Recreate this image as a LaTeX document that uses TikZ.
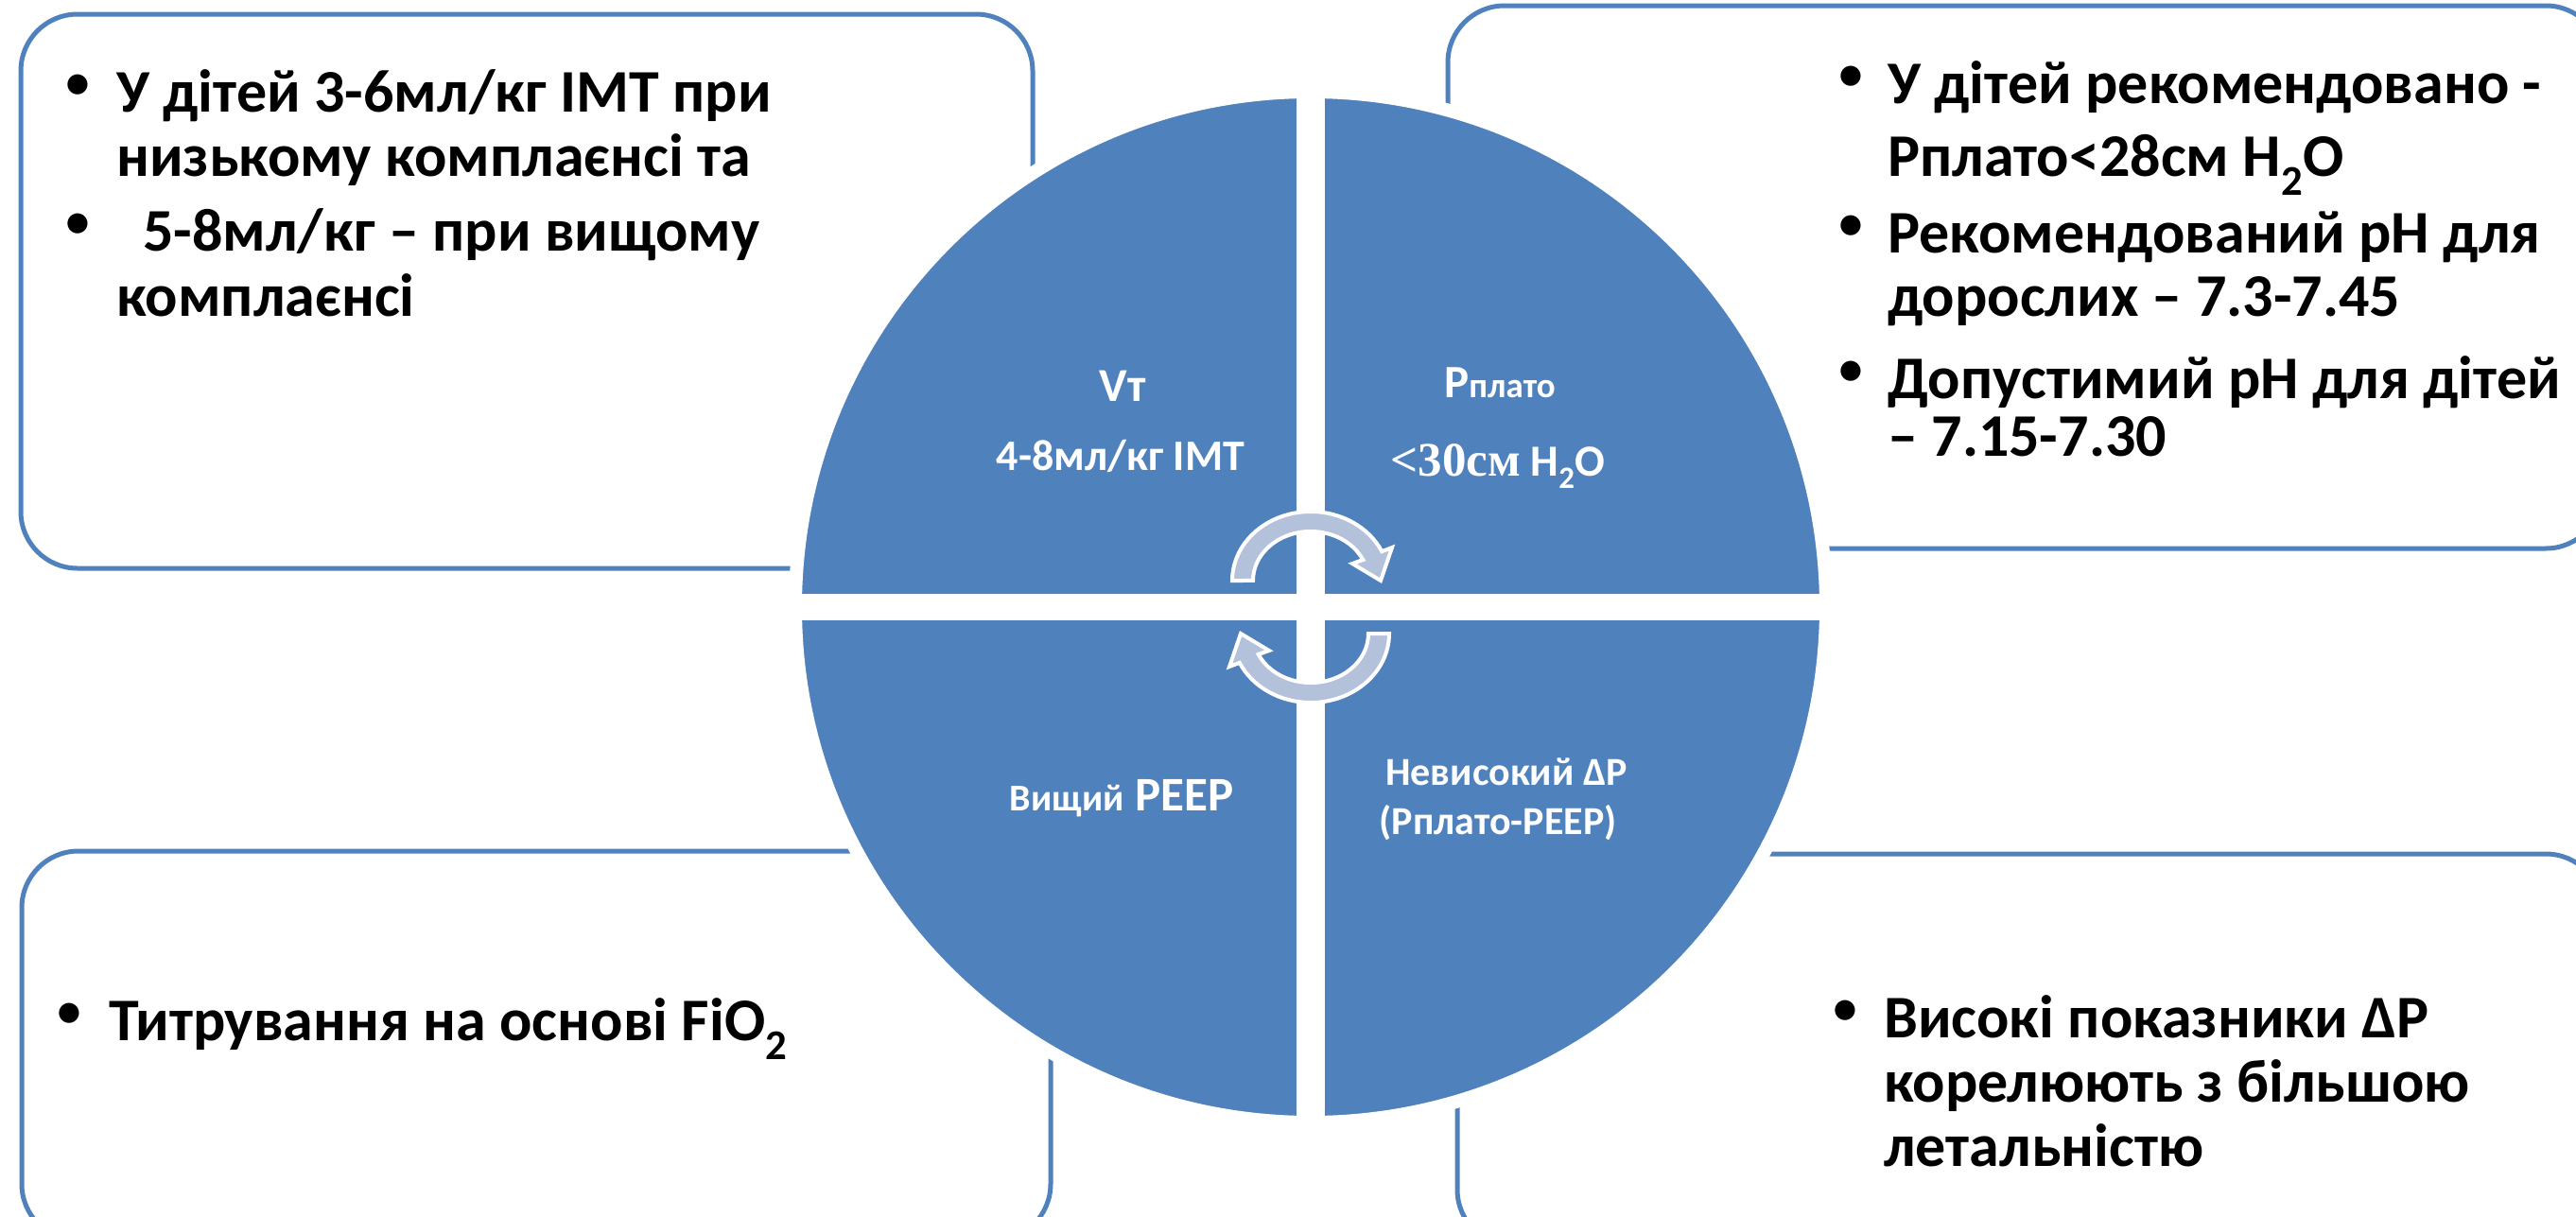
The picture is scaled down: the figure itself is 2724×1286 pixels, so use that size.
\documentclass[tikz,border=0pt]{standalone}
\usepackage{fontspec}
\setmainfont{Carlito}
\newfontfamily\serifb{Liberation Serif}
\definecolor{blueA}{HTML}{4F81BD}
\definecolor{arrowfill}{HTML}{B3C1DB}
\begin{document}
\begin{tikzpicture}[x=1pt,y=-1pt,
  boxline/.style={draw=blueA, line width=5pt, rounded corners=60pt},
  body/.style={anchor=base west, inner sep=0pt, font=\bfseries\fontsize{64}{70}\selectfont},
  bul/.style={anchor=base, inner sep=0pt, font=\fontsize{60}{70}\selectfont},
  quad/.style={anchor=base, inner sep=0pt, text=white},
  cyc/.style={fill=arrowfill, draw=white, line width=4pt, line join=miter}
]
\useasboundingbox (0,0) rectangle (2724,1286);
\clip (0,0) rectangle (2724,1286);

% outer boxes
\draw[boxline] (22,15) rectangle (1092,601);
\draw[boxline] (1531,6) rectangle (2752,580);
\draw[boxline] (23,900) rectangle (1111,1312);
\draw[boxline] (1541,903) rectangle (2752,1318);

% central circle divided into four quadrants
\filldraw[fill=blueA, draw=white, line width=14pt] (1386,642) circle[radius=545];
\fill[white] (1371,80) rectangle (1401,1200);
\fill[white] (830,628) rectangle (1940,656);

% cycle arrows
\filldraw[cyc] (1303,614) arc[start angle=180, end angle=335, x radius=83, y radius=73]
  -- (1472,579) -- (1460,614) -- (1430,596) -- (1441.3,592)
  arc[start angle=335, end angle=180, x radius=61, y radius=52] -- cycle;
\begin{scope}[rotate around={180:(1386,642)}]
\filldraw[cyc] (1303,614) arc[start angle=180, end angle=335, x radius=83, y radius=73]
  -- (1472,579) -- (1460,614) -- (1430,596) -- (1441.3,592)
  arc[start angle=335, end angle=180, x radius=61, y radius=52] -- cycle;
\end{scope}

% quadrant texts
\node[quad, font=\bfseries\fontsize{50}{55}\selectfont] (vt) at (1187,424) {Vт};
\node[quad, font=\bfseries\fontsize{46}{50}\selectfont] (vtval) at (1185,497) {4-8мл/кг ІМТ};
\node[quad, font=\bfseries\fontsize{49}{52}\selectfont] (pp) at (1586,420) {Р{\fontsize{37}{40}\selectfont плато}};
\node[quad, font=\bfseries\fontsize{47}{50}\selectfont] (ppval) at (1584,503) {{\serifb\bfseries\fontsize{51}{55}\selectfont <30см} H\textsubscript{2}O};
\node[quad, font=\bfseries\fontsize{51}{55}\selectfont] (peep) at (1186,857) {{\fontsize{40}{45}\selectfont Вищий} PEEP};
\node[quad, font=\bfseries\fontsize{42}{45}\selectfont] (dp) at (1593,830) {Невисокий ΔP};
\node[quad, font=\bfseries\fontsize{42}{45}\selectfont] (dp2) at (1584,882) {(Рплато-PEEP)};

% top-left box text
\node[bul] (tlb1) at (82,106) {•};
\node[body] (tl1) at (123,118) {У дітей 3-6мл/кг ІМТ при};
\node[body] (tl2) at (123,186) {низькому комплаєнсі та};
\node[bul] (tlb2) at (82,253) {•};
\node[body] (tl3) at (151,265) {5-8мл/кг – при вищому};
\node[body] (tl4) at (123,334) {комплаєнсі};

% top-right box text
\node[bul] (trb1) at (1957,97) {•};
\node[body] (tr1) at (1996,109) {У дітей рекомендовано -};
\node[body] (tr2) at (1996,186) {Рплато<28см H\textsubscript{2}O};
\node[bul] (trb2) at (1957,255) {•};
\node[body] (tr3) at (1996,267) {Рекомендований pH для};
\node[body] (tr4) at (1996,334) {дорослих – 7.3-7.45};
\node[bul] (trb3) at (1957,409) {•};
\node[body] (tr5) at (1996,421) {Допустимий pH для дітей};
\node[body] (tr6) at (1996,482) {– 7.15-7.30};

% bottom-left box text
\node[bul] (blb1) at (73,1088) {•};
\node[body] (bl1) at (115,1100) {Титрування на основі FiO\textsubscript{2}};

% bottom-right box text
\node[bul] (brb1) at (1951,1085) {•};
\node[body] (br1) at (1992,1097) {Високі показники ΔP};
\node[body] (br2) at (1992,1165) {корелюють з більшою};
\node[body] (br3) at (1992,1233) {летальністю};
\end{tikzpicture}
\end{document}
